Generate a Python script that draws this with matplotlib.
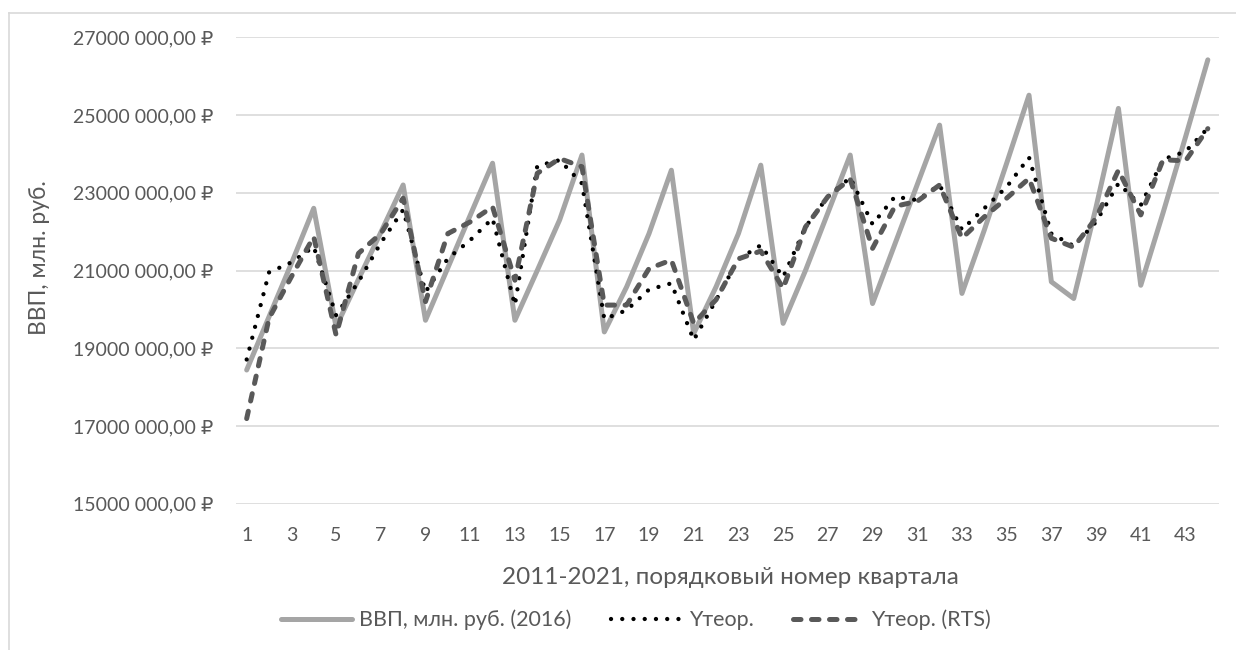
import matplotlib
matplotlib.use("Agg")
import matplotlib.pyplot as plt
from matplotlib.lines import Line2D

plt.rcParams['font.family'] = ['Lato', 'DejaVu Sans']

quarters = list(range(1, 45))

gdp = [18.44, 19.81, 21.18, 22.60, 19.55, 20.77, 21.98, 23.20, 19.72, 21.07, 22.42, 23.76,
       19.72, 21.00, 22.30, 23.97, 19.42, 20.58, 21.95, 23.58, 19.38, 20.58, 21.95, 23.71,
       19.64, 21.00, 22.48, 23.97, 20.15, 21.68, 23.21, 24.74, 20.41, 22.04, 23.76, 25.51,
       20.71, 20.28, 22.63, 25.17, 20.62, 22.49, 24.43, 26.42]

y_teor = [18.71, 20.95, 21.21, 21.61, 19.85, 20.71, 21.71, 22.56, 20.45, 21.31, 21.78, 22.34,
          20.11, 23.69, 23.84, 23.24, 19.75, 19.98, 20.51, 20.67, 19.21, 20.24, 21.29, 21.65,
          20.83, 22.12, 22.90, 23.39, 22.19, 22.90, 22.81, 23.20, 22.05, 22.60, 23.15, 23.91,
          21.95, 21.63, 22.25, 23.24, 22.68, 23.86, 24.06, 24.66]

y_rts = [17.19, 19.77, 20.84, 21.87, 19.34, 21.44, 21.95, 22.86, 20.20, 21.95, 22.25, 22.64,
         20.75, 23.50, 23.88, 23.67, 20.11, 20.11, 21.05, 21.27, 19.64, 20.25, 21.30, 21.50,
         20.54, 22.12, 22.90, 23.35, 21.57, 22.65, 22.78, 23.20, 21.83, 22.38, 22.86, 23.37,
         21.83, 21.60, 22.35, 23.58, 22.43, 23.85, 23.82, 24.65]

# values above are in millions of (mln.) roubles
scale = 1_000_000
gdp_v = [v * scale for v in gdp]
y_teor_v = [v * scale for v in y_teor]
y_rts_v = [v * scale for v in y_rts]

y_ticks = [15_000_000, 17_000_000, 19_000_000, 21_000_000, 23_000_000, 25_000_000, 27_000_000]
y_tick_labels = ["15000 000,00 ₽", "17000 000,00 ₽", "19000 000,00 ₽", "21000 000,00 ₽",
                 "23000 000,00 ₽", "25000 000,00 ₽", "27000 000,00 ₽"]
x_ticks = list(range(1, 44, 2))

series_names = ["ВВП, млн. руб. (2016)", "Yтеор.", "Yтеор. (RTS)"]

W, H = 1236, 650
fig = plt.figure(figsize=(W / 100, H / 100), dpi=100)

# chart frame (top and left edges visible)
fig.add_artist(Line2D([8.5 / W, 8.5 / W], [0, 1 - 13 / H], color='#D9D9D9', lw=1.2))
fig.add_artist(Line2D([8.5 / W, 1], [1 - 13 / H, 1 - 13 / H], color='#D9D9D9', lw=1.2))

left, right = 235.5 / W, 1219 / W
top, bottom = 1 - 37.3 / H, 1 - 503.7 / H
ax = fig.add_axes([left, bottom, right - left, top - bottom])

ax.plot(quarters, gdp_v, color='#A5A5A5', lw=3.6, solid_capstyle='round',
        solid_joinstyle='round', label=series_names[0], zorder=2)
ax.plot(quarters, y_teor_v, color='black', lw=3.1, linestyle=(0, (0.01, 2.6)),
        dash_capstyle='round', label=series_names[1], zorder=3)
ax.plot(quarters, y_rts_v, color='#595959', lw=3.6, linestyle=(0, (1.5, 2.1)),
        dash_capstyle='round', dash_joinstyle='round', label=series_names[2], zorder=4)

ax.set_xlim(0.5, 44.5)
ax.set_ylim(15_000_000, 27_000_000)
ax.set_yticks(y_ticks)
ax.set_yticklabels(y_tick_labels)
ax.set_xticks(x_ticks)
ax.set_xticklabels([str(t) for t in x_ticks])

ax.grid(axis='y', color='#D9D9D9', lw=1.2)
ax.set_axisbelow(True)
for s in ax.spines.values():
    s.set_visible(False)
ax.tick_params(axis='both', length=0, labelsize=14, colors='#595959')
ax.tick_params(axis='y', pad=16)
ax.tick_params(axis='x', pad=17)

fig.text(40 / W, 1 - 258 / H, "ВВП, млн. руб.", rotation=90, ha='center', va='center',
         fontsize=16.5, color='#595959')
fig.text(730 / W, 1 - 577 / H, "2011-2021, порядковый номер квартала", ha='center',
         va='center', fontsize=17.5, color='#595959')

leg = fig.legend(loc='center', bbox_to_anchor=(636 / W, 1 - 620 / H), ncol=3,
                 frameon=False, fontsize=15.5, handlelength=3.3, handletextpad=0.35,
                 columnspacing=1.8, labelcolor='#595959')

fig.savefig("out.png", dpi=100, facecolor='white')
